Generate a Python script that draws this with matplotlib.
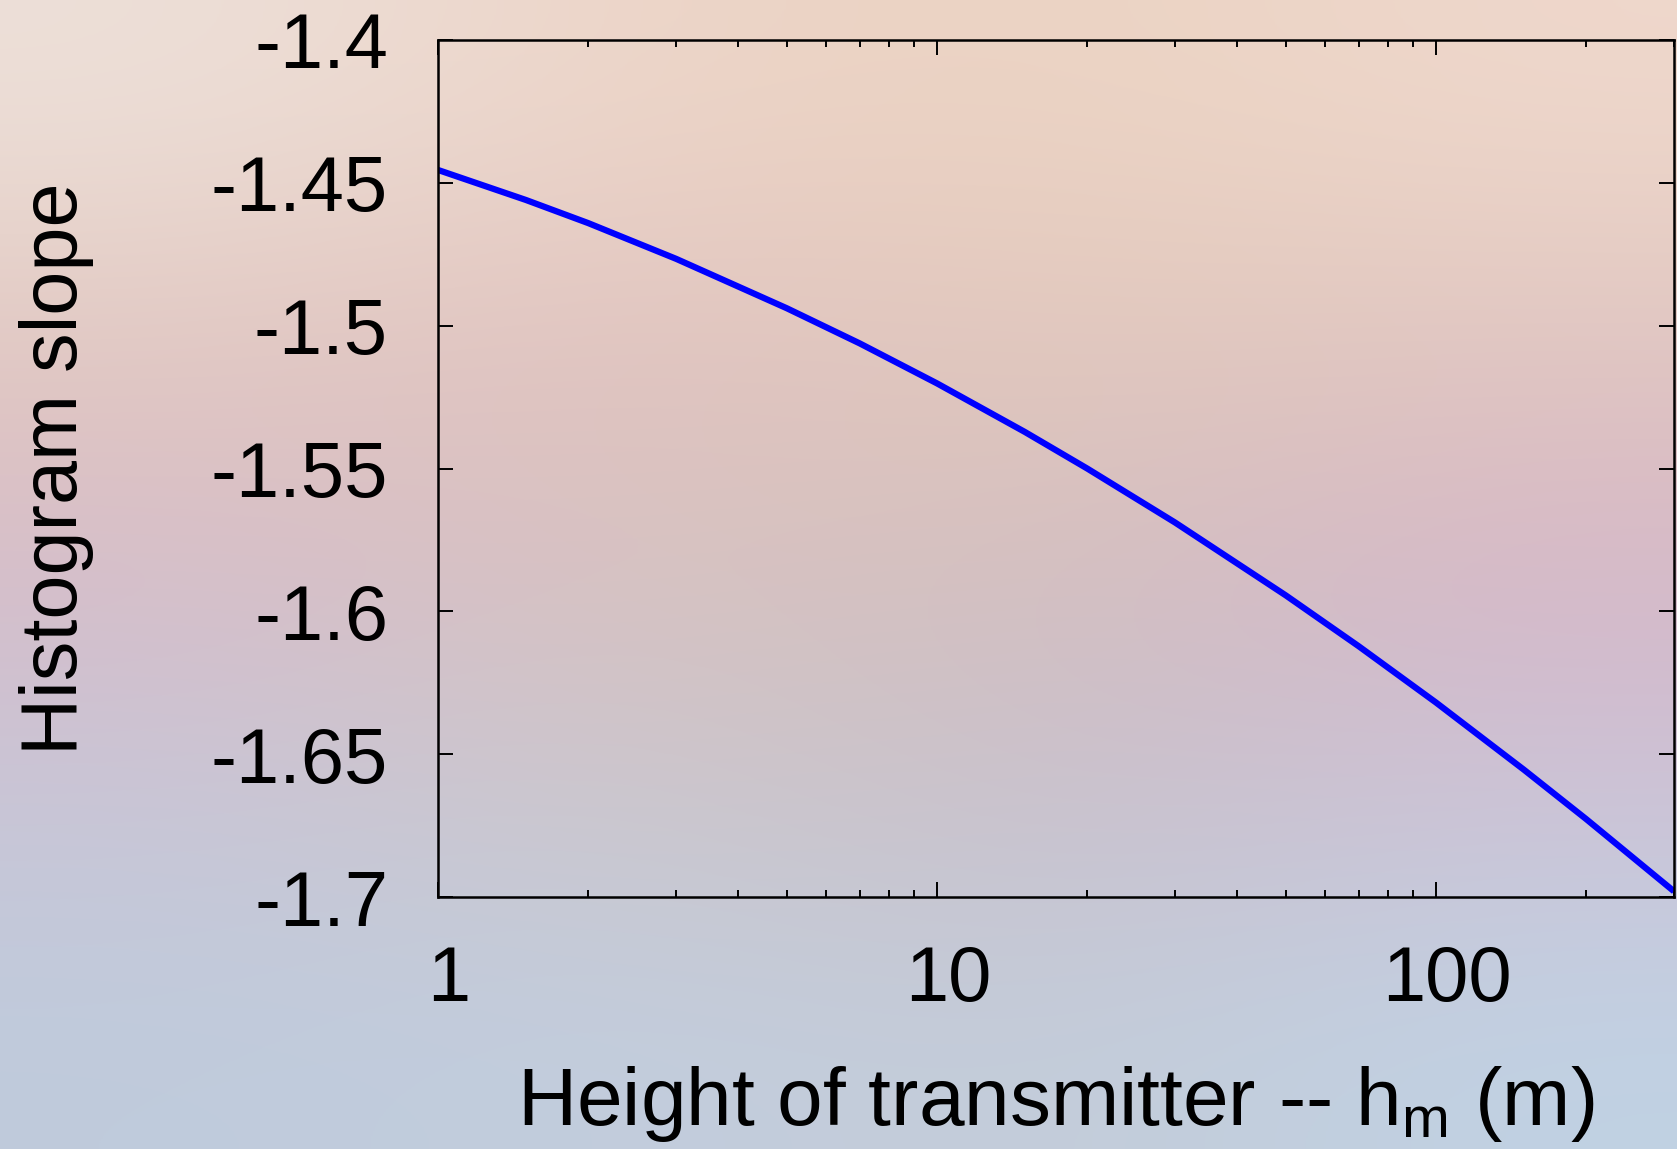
import numpy as np
import matplotlib
matplotlib.use("Agg")
import matplotlib.pyplot as plt
import matplotlib.colors as mcolors
from matplotlib.ticker import LogLocator, FixedLocator, NullFormatter
from matplotlib.transforms import ScaledTranslation

plt.rcParams['font.family'] = ['Liberation Sans', 'DejaVu Sans']
plt.rcParams['mathtext.fontset'] = 'custom'
plt.rcParams['mathtext.rm'] = 'Liberation Sans'
plt.rcParams['mathtext.it'] = 'Liberation Sans'

# Data
height_m = [1, 1.5, 2, 3, 5, 7, 10, 15, 20, 30, 50, 70, 100, 150, 200, 300]
slope = [-1.4455, -1.4560, -1.4641, -1.4766, -1.4939, -1.5062, -1.5202, -1.5372,
         -1.5500, -1.5689, -1.5944, -1.6122, -1.6319, -1.6554, -1.6727, -1.6980]

y_ticks = [-1.4, -1.45, -1.5, -1.55, -1.6, -1.65, -1.7]
y_tick_labels = ['-1.4', '-1.45', '-1.5', '-1.55', '-1.6', '-1.65', '-1.7']
x_ticks = [1, 10, 100]
x_tick_labels = ['1', '10', '100']

# Blurry pastel backdrop (rows top -> bottom)
bg_colors = [
    ['#ede0d9', '#edd5c8', '#ebd3c2', '#efd8cc'],
    ['#e2c8c0', '#e0c2c0', '#e2c8bc', '#e0c6c0'],
    ['#d6bcca', '#d8c2c0', '#d2bfbe', '#d6b6c8'],
    ['#c8c6d8', '#ccc8cc', '#c8c0cc', '#ccc4d8'],
    ['#bfcbdc', '#c2cedf', '#c4ccd8', '#c0d2e4'],
]

fig = plt.figure(figsize=(16.77, 11.49), dpi=100)

bg = fig.add_axes([0, 0, 1, 1], zorder=-1)
grid = np.array([[mcolors.to_rgb(c) for c in row] for row in bg_colors])
bg.imshow(grid, aspect='auto', extent=[0, 1, 0, 1], interpolation='bicubic')
bg.axis('off')

ax = fig.add_axes([0.2612, 0.2193, 0.7370, 0.7459])
ax.set_facecolor('none')

ax.plot(height_m, slope, color='#0000ff', linewidth=4.5, solid_capstyle='butt')

ax.set_xscale('log')
ax.set_xlim(1, 300)
ax.set_ylim(-1.7, -1.4)

ax.xaxis.set_major_locator(FixedLocator(x_ticks))
ax.set_xticklabels(x_tick_labels)
ax.xaxis.set_minor_locator(LogLocator(base=10, subs=np.arange(2, 10)))
ax.xaxis.set_minor_formatter(NullFormatter())
ax.set_yticks(y_ticks)
ax.set_yticklabels(y_tick_labels)

for s in ax.spines.values():
    s.set_linewidth(1.8)
    s.set_color('black')

ax.tick_params(which='both', direction='in', top=True, right=True, labelsize=56, width=1.4)
ax.tick_params(which='major', length=10.5)
ax.tick_params(which='minor', length=5)
ax.tick_params(axis='y', pad=36)
ax.tick_params(axis='x', pad=34)

# gnuplot puts the x labels a touch right of the tick
shift = ScaledTranslation(8 / 72, 0, fig.dpi_scale_trans)
for lab in ax.get_xticklabels():
    lab.set_transform(lab.get_transform() + shift)

ax.set_xlabel('Height of transmitter -- h$_{\\rm m}$ (m)', fontsize=59, labelpad=34)
ax.set_ylabel('Histogram slope', fontsize=57, labelpad=84)

fig.savefig('out.png', dpi=100)
